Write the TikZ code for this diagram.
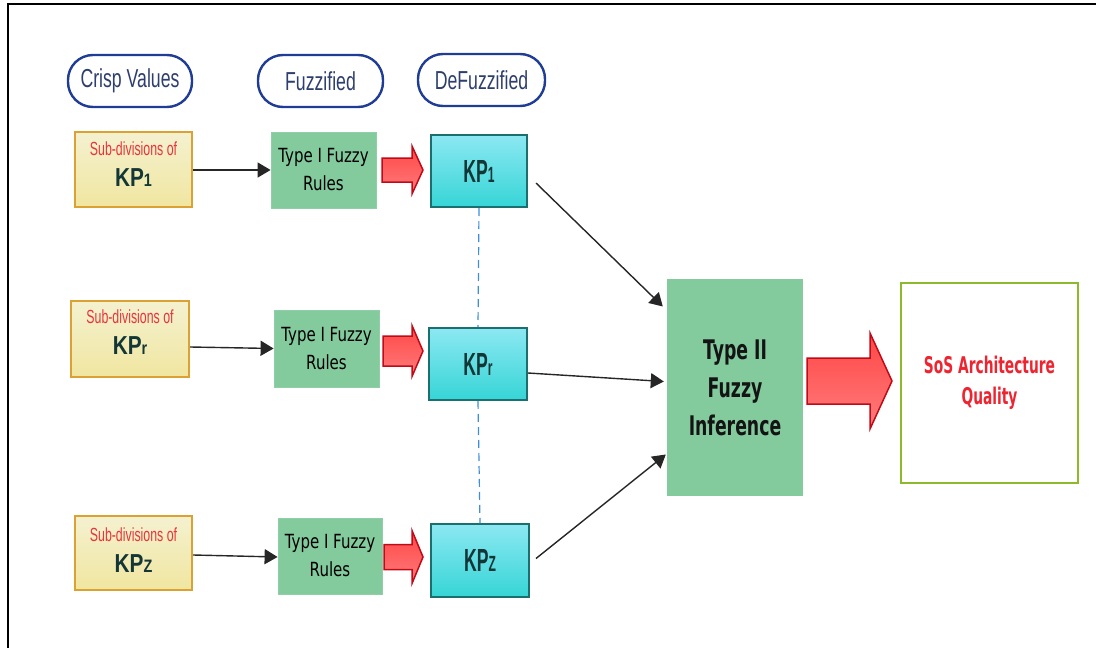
\documentclass[tikz,border=0pt]{standalone}
\usepackage{fontspec}
\setmainfont{Liberation Sans}
\newfontfamily\pillf[FakeStretch=0.68]{Liberation Sans}
\newfontfamily\subf[FakeStretch=0.65]{Liberation Sans}
\newfontfamily\kpyf[FakeStretch=0.8]{Liberation Sans}
\newfontfamily\kpcf[FakeStretch=0.55]{Liberation Sans}
\newfontfamily\tyonef[FakeStretch=0.77]{DejaVu Sans}
\newfontfamily\tytwof[FakeStretch=0.64]{DejaVu Sans}
\newfontfamily\sosf[FakeStretch=0.6]{DejaVu Sans}
\usetikzlibrary{arrows.meta,calc}
\definecolor{pillblue}{HTML}{1F3C96}
\definecolor{pilltext}{HTML}{2E3F6E}
\definecolor{yeltop}{HTML}{F4F1D0}
\definecolor{yelbot}{HTML}{F0E6A0}
\definecolor{yelborder}{HTML}{DBA233}
\definecolor{subred}{HTML}{E8343C}
\definecolor{kptext}{HTML}{133636}
\definecolor{greenfill}{HTML}{83CA9D}
\definecolor{cyantop}{HTML}{8CE8F2}
\definecolor{cyanbot}{HTML}{36D5D6}
\definecolor{cyanborder}{HTML}{1B6F6E}
\definecolor{arrtop}{HTML}{FF4646}
\definecolor{arrbot}{HTML}{FF7C7C}
\definecolor{arrborder}{HTML}{C00A18}
\definecolor{dashblue}{HTML}{3E8EDC}
\definecolor{sosborder}{HTML}{8DBA2B}
\definecolor{sosred}{HTML}{EE2430}
\newcommand\blockarr[6]{% x1, x2(tip), yc, body h, head h, head length
  \draw[redarr] (#1,#3-#4/2) -- (#2-#6,#3-#4/2) -- (#2-#6,#3-#5/2) -- (#2,#3)
    -- (#2-#6,#3+#5/2) -- (#2-#6,#3+#4/2) -- (#1,#3+#4/2) -- cycle;}
\newcommand\kpy[1]{{\kpyf\bfseries\fontsize{26}{26}\selectfont\color{kptext}KP{\fontsize{18}{18}\selectfont #1}}}
\newcommand\kpc[1]{{\kpcf\bfseries\fontsize{32}{32}\selectfont\color{kptext}KP{\fontsize{22}{22}\selectfont #1}}}
\newcommand\subdiv{{\subf\fontsize{19}{19}\selectfont\color{subred}Sub-divisions of}}
\begin{document}
\begin{tikzpicture}[x=1pt,y=-1pt,
  pill/.style={draw=pillblue,line width=2.4pt,fill=white,rounded corners=25pt,
    text=pilltext,font=\pillf\fontsize{26}{30}\selectfont,inner sep=0pt},
  yelbox/.style={draw=yelborder,line width=2.4pt,top color=yeltop,bottom color=yelbot,inner sep=0pt},
  yeltext/.style={align=center,inner sep=0pt,font=\fontsize{18}{31}\selectfont},
  greenbox/.style={fill=greenfill,draw=greenfill!90!white,line width=0.8pt,inner sep=0pt,align=center,
    font=\tyonef\fontsize{19.5}{28}\selectfont,text=black},
  cyanbox/.style={draw=cyanborder,line width=2pt,top color=cyantop,bottom color=cyanbot,inner sep=0pt},
  redarr/.style={draw=arrborder,line width=1.5pt,top color=arrtop,bottom color=arrbot},
  conn/.style={draw=black!85,line width=1.4pt,-{Triangle[length=13pt,width=15pt]}},
  dashline/.style={draw=dashblue,line width=1.2pt,dash pattern=on 8pt off 5pt}]
\useasboundingbox (0,0) rectangle (1096,648);
% frame
\draw[line width=2pt] (8,648) -- (8,4) -- (1096,4);
% header pills
\node[pill,minimum width=124pt,minimum height=52pt] (crisp) at (130,81) {Crisp Values};
\node[pill,minimum width=125pt,minimum height=52pt] (fuzz) at (320.5,81) {Fuzzified};
\node[pill,minimum width=127pt,minimum height=52pt] (defuzz) at (481.5,80) {DeFuzzified};
% yellow boxes
\node[yelbox,minimum width=117pt,minimum height=75pt] (y1) at (133.5,169.5) {};
\node[yelbox,minimum width=118pt,minimum height=76pt] (y2) at (130,339) {};
\node[yelbox,minimum width=117pt,minimum height=74pt] (y3) at (133.5,553) {};
\node[yeltext] (y1t) at ([yshift=5pt]y1.center) {\subdiv\\\kpy{1}};
\node[yeltext] (y2t) at ([yshift=7pt]y2.center) {\subdiv\\\kpy{r}};
\node[yeltext] (y3t) at ([yshift=3pt]y3.center) {\subdiv\\\kpy{Z}};
% green boxes
\node[greenbox,minimum width=105pt,minimum height=76pt] (g1) at (323.5,170) {Type I Fuzzy\\Rules};
\node[greenbox,minimum width=105pt,minimum height=77pt] (g2) at (326.5,348.5) {Type I Fuzzy\\Rules};
\node[greenbox,minimum width=104pt,minimum height=76pt] (g3) at (330,556) {Type I Fuzzy\\Rules};
% cyan boxes
\node[cyanbox,minimum width=96pt,minimum height=72pt] (c1) at (479,171) {\kpc{1}};
\node[cyanbox,minimum width=98pt,minimum height=72pt] (c2) at (478,364) {\kpc{r}};
\node[cyanbox,minimum width=98pt,minimum height=73pt] (c3) at (480,560.5) {\kpc{Z}};
% type II
\node[fill=greenfill,inner sep=0pt,minimum width=136pt,minimum height=217pt,align=center,
  font=\tytwof\bfseries\fontsize{27}{38}\selectfont,text=black!92] (t2) at (735,387.5) {Type II\\Fuzzy\\Inference};
% SoS
\node[draw=sosborder,line width=2.8pt,fill=white,inner sep=0pt,minimum width=177pt,minimum height=200pt,
  align=center,font=\sosf\bfseries\fontsize{23}{31}\selectfont,text=sosred] (sos) at (989.5,383) {SoS Architecture\\Quality};
% dashed links
\draw[dashline] (c1.south) -- (c2.north);
\draw[dashline] (c2.south) -- (c3.north);
% thin arrows
\draw[conn] (y1.east |- 0,170) -- (g1.west |- 0,170);
\draw[conn] ([yshift=-8pt]y2.east) -- ([yshift=0pt]g2.west);
\draw[conn] ([yshift=-2pt]y3.east) -- ([yshift=-1pt]g3.west);
\draw[conn] ([shift={(8,12)}]c1.east) -- ([shift={(-4,-81)}]t2.west);
\draw[conn] ([shift={(0,9)}]c2.east) -- ([shift={(-3,-6)}]t2.west);
\draw[conn] ([shift={(6,-2)}]c3.east) -- ([shift={(-1,67)}]t2.west);
% red block arrows
\blockarr{382}{423}{170}{24}{48}{11}
\blockarr{383}{423}{351}{30}{51}{11}
\blockarr{384}{423}{557}{25}{53}{11}
\blockarr{807}{892}{381}{46}{96}{22}
\end{tikzpicture}
\end{document}
